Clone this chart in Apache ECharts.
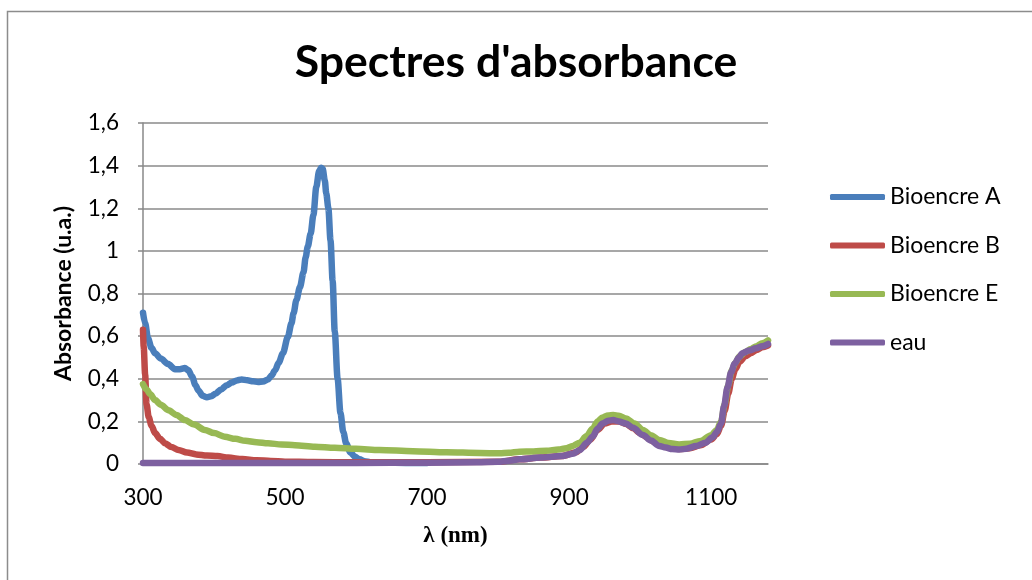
<!DOCTYPE html>
<html>
<head>
<meta charset="utf-8">
<script src="https://cdn.jsdelivr.net/npm/echarts@6/dist/echarts.min.js"></script>
<style>html,body{margin:0;padding:0;background:#fff;}#c{width:1032px;height:580px;}</style>
</head>
<body>
<div id="c"></div>
<script>
// ---- data ----
const seriesNames = ['Bioencre A', 'Bioencre B', 'Bioencre E', 'eau'];
const xTicks = [300, 500, 700, 900, 1100];

const wlA = [300, 303, 307, 312, 317, 325, 335, 345, 352, 359, 364, 369, 374, 378, 384, 390, 396, 402, 410, 418, 425, 432, 439, 447, 455, 462, 469, 476, 481, 486, 491, 497, 504, 509, 512, 516, 521, 526, 529, 532, 536, 540, 544, 548, 551, 553, 556, 558, 561, 564, 567, 570, 574, 578, 582, 586, 592, 598, 605, 612, 620, 640, 670, 700];
const absA = [0.71, 0.66, 0.59, 0.545, 0.52, 0.495, 0.47, 0.445, 0.445, 0.45, 0.44, 0.41, 0.37, 0.345, 0.32, 0.313, 0.318, 0.33, 0.35, 0.37, 0.382, 0.392, 0.397, 0.393, 0.388, 0.385, 0.387, 0.397, 0.415, 0.44, 0.475, 0.52, 0.597, 0.66, 0.707, 0.77, 0.83, 0.9, 0.97, 1.02, 1.08, 1.17, 1.30, 1.375, 1.39, 1.385, 1.33, 1.27, 1.20, 1.05, 0.86, 0.62, 0.40, 0.24, 0.15, 0.097, 0.055, 0.035, 0.022, 0.013, 0.008, 0.006, 0.005, 0.005];

const wlB = [300, 301, 303, 305, 308, 312, 317, 324, 331, 340, 350, 362, 375, 390, 405, 420, 440, 460, 480, 500, 540, 600, 700, 800, 830, 860, 890, 910, 920, 930, 940, 950, 960, 970, 980, 990, 1000, 1010, 1020, 1030, 1040, 1055, 1070, 1085, 1100, 1108, 1114, 1119, 1124, 1129, 1134, 1140, 1148, 1156, 1164, 1172, 1180];
const absB = [0.63, 0.55, 0.42, 0.28, 0.22, 0.18, 0.145, 0.118, 0.097, 0.08, 0.066, 0.054, 0.045, 0.04, 0.037, 0.03, 0.023, 0.018, 0.014, 0.011, 0.009, 0.008, 0.008, 0.01, 0.022, 0.03, 0.038, 0.055, 0.08, 0.115, 0.16, 0.19, 0.2, 0.2, 0.188, 0.168, 0.145, 0.125, 0.103, 0.087, 0.077, 0.07, 0.074, 0.088, 0.115, 0.14, 0.18, 0.25, 0.33, 0.40, 0.445, 0.48, 0.505, 0.52, 0.535, 0.548, 0.556];

const wlE = [300, 305, 310, 317, 325, 336, 347, 359, 372, 387, 400, 415, 430, 444, 460, 476, 495, 514, 542, 570, 600, 633, 680, 727, 774, 802, 815, 830, 850, 868, 885, 896, 905, 915, 924, 933, 940, 947, 955, 962, 970, 980, 992, 1004, 1015, 1027, 1040, 1055, 1070, 1085, 1100, 1108, 1114, 1119, 1124, 1129, 1134, 1140, 1148, 1156, 1164, 1172, 1180];
const absE = [0.375, 0.35, 0.328, 0.30, 0.278, 0.252, 0.23, 0.206, 0.185, 0.16, 0.145, 0.128, 0.118, 0.109, 0.102, 0.097, 0.092, 0.088, 0.081, 0.076, 0.071, 0.066, 0.06, 0.055, 0.052, 0.05, 0.053, 0.058, 0.059, 0.062, 0.068, 0.074, 0.085, 0.1, 0.13, 0.165, 0.2, 0.218, 0.228, 0.23, 0.226, 0.214, 0.19, 0.16, 0.135, 0.113, 0.098, 0.092, 0.095, 0.108, 0.135, 0.16, 0.2, 0.28, 0.37, 0.44, 0.475, 0.505, 0.525, 0.54, 0.553, 0.567, 0.58];

const wlW = [300, 400, 500, 600, 700, 770, 800, 815, 830, 860, 890, 905, 915, 925, 933, 940, 947, 955, 962, 970, 980, 990, 1004, 1015, 1027, 1036, 1045, 1055, 1065, 1079, 1092, 1102, 1108, 1114, 1118, 1123, 1128, 1133, 1139, 1144, 1153, 1163, 1172, 1180];
const absW = [0.005, 0.005, 0.005, 0.005, 0.006, 0.008, 0.01, 0.015, 0.022, 0.03, 0.037, 0.048, 0.066, 0.1, 0.128, 0.165, 0.19, 0.203, 0.206, 0.2, 0.19, 0.17, 0.136, 0.11, 0.085, 0.077, 0.07, 0.068, 0.072, 0.084, 0.1, 0.125, 0.15, 0.19, 0.27, 0.36, 0.43, 0.47, 0.5, 0.52, 0.532, 0.543, 0.553, 0.563];

const colors = ['#4A7EBB', '#BE4B48', '#98B954', '#7D60A0'];
const pairs = (xs, ys) => xs.map((x, i) => [x, ys[i]]);
const dataSets = [pairs(wlA, absA), pairs(wlB, absB), pairs(wlE, absE), pairs(wlW, absW)];

const chart = echarts.init(document.getElementById('c'), null, {renderer: 'canvas'});
const baseFont = 'Lato, "Noto Sans", sans-serif';
chart.setOption({
  animation: false,
  backgroundColor: '#ffffff',
  graphic: [{
    type: 'rect', left: 5, top: 9, silent: true,
    shape: {width: 1100, height: 700},
    style: {fill: 'none', stroke: '#8c8c8c', lineWidth: 1.5}
  }],
  title: {
    text: "Spectres d'absorbance",
    left: 'center', top: 35,
    textStyle: {fontFamily: baseFont, fontWeight: 'bold', fontSize: 44.5, color: '#000'}
  },
  legend: {
    orient: 'vertical', left: 825, top: 180,
    icon: 'roundRect',
    itemWidth: 55, itemHeight: 6, itemGap: 24.5,
    data: seriesNames,
    textStyle: {fontFamily: baseFont, fontSize: 23, lineHeight: 24, color: '#000'}
  },
  grid: {left: 143, right: 264, top: 123, bottom: 116, containLabel: false},
  xAxis: {
    type: 'value', min: 300, max: 1180,
    name: 'λ (nm)', nameLocation: 'middle', nameGap: 61,
    nameTextStyle: {fontFamily: '"Liberation Serif", "DejaVu Serif", serif', fontWeight: 'bold', fontSize: 23, color: '#000'},
    axisLine: {show: true, lineStyle: {color: '#888', width: 1.5}},
    axisTick: {show: false},
    splitLine: {show: false},
    axisLabel: {
      margin: 22,
      fontFamily: baseFont, fontSize: 22.5, color: '#000',
      customValues: xTicks,
      formatter: v => String(v)
    }
  },
  yAxis: {
    type: 'value', min: 0, max: 1.6, interval: 0.2,
    name: 'Absorbance (u.a.)', nameLocation: 'middle', nameRotate: 90, nameGap: 68,
    nameTextStyle: {fontFamily: baseFont, fontWeight: 'bold', fontSize: 23, color: '#000'},
    axisLine: {show: true, lineStyle: {color: '#888', width: 1.5}},
    axisTick: {show: true, length: 5, lineStyle: {color: '#888', width: 1.5}},
    splitLine: {show: true, lineStyle: {color: '#8a8a8a', width: 1.5}},
    axisLabel: {
      margin: 24, fontFamily: baseFont, fontSize: 22.5, color: '#000',
      formatter: v => String(Math.round(v * 10) / 10).replace('.', ',')
    }
  },
  series: seriesNames.map((n, i) => ({
    name: n, type: 'line', data: dataSets[i],
    showSymbol: false, symbol: 'none',
    smooth: 0.3, smoothMonotone: 'x',
    color: colors[i],
    itemStyle: {color: colors[i]},
    lineStyle: {width: 6.5, color: colors[i], cap: 'round', join: 'round'}
  }))
});
</script>
</body>
</html>
